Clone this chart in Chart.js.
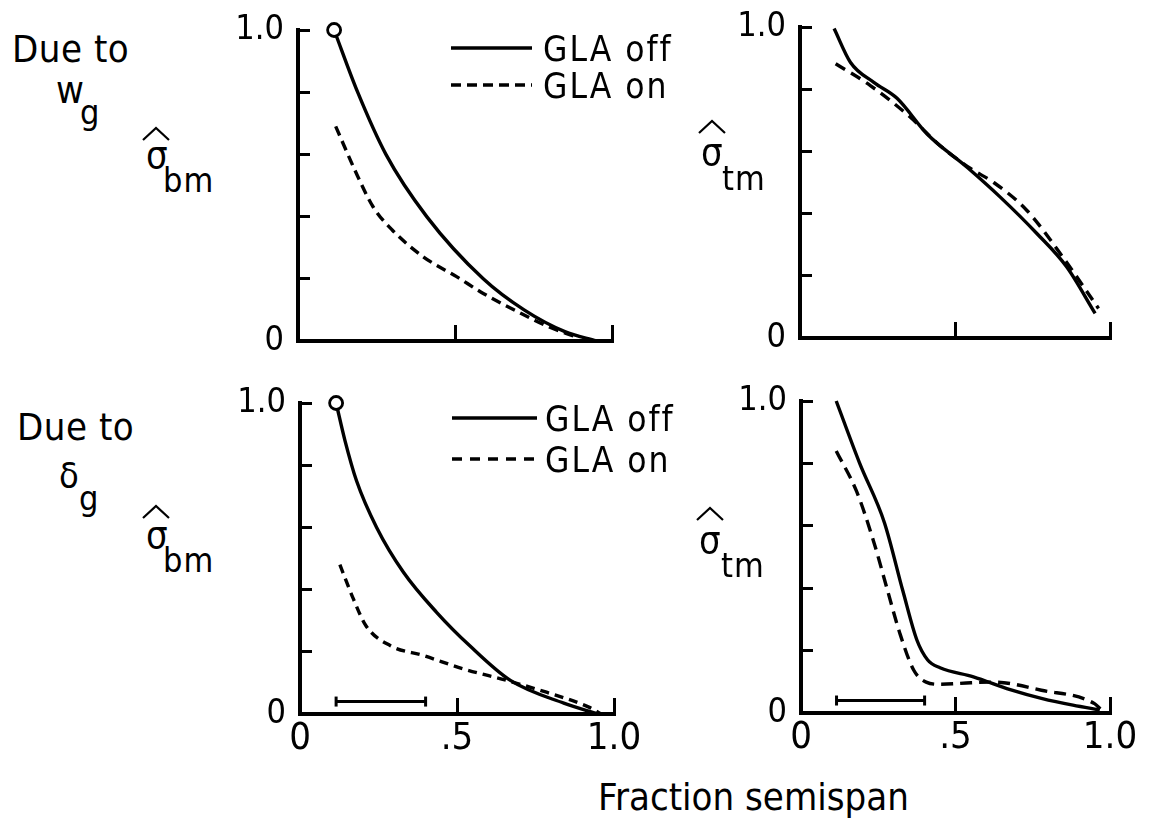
<!DOCTYPE html>
<html>
<head>
<meta charset="utf-8">
<script src="https://cdn.jsdelivr.net/npm/chart.js@4.4.1/dist/chart.umd.min.js"></script>
<style>
  html, body { margin: 0; padding: 0; background: #fff; overflow: hidden; }
  body { width: 1157px; height: 826px; position: relative; }
  .t { position: absolute; line-height: 1; white-space: nowrap; color: #000;
       font-family: 'DejaVu Sans Condensed', 'Liberation Sans Narrow', 'DejaVu Sans', sans-serif; }
  svg.hat { position: absolute; overflow: visible; }
</style>
</head>
<body>
<script>
// ---------------- DATA ----------------
// Top row: due to w_g ; bottom row: due to delta_g
// x = fraction semispan, y = normalized stress
const wgBmOffX = [0.115, 0.19, 0.28, 0.41, 0.59, 0.72, 0.85, 0.95];
const wgBmOffY = [1.00, 0.80, 0.60, 0.40, 0.20, 0.10, 0.03, 0.00];
const wgBmOnX  = [0.12, 0.19, 0.24, 0.30, 0.40, 0.505, 0.59, 0.70, 0.80, 0.88];
const wgBmOnY  = [0.69, 0.53, 0.43, 0.357, 0.27, 0.207, 0.153, 0.094, 0.045, 0.015];

const wgTmOffX = [0.11, 0.163, 0.238, 0.313, 0.41, 0.539, 0.646, 0.764, 0.86, 0.952];
const wgTmOffY = [0.995, 0.886, 0.822, 0.771, 0.656, 0.549, 0.453, 0.336, 0.229, 0.079];
const wgTmOnX  = [0.115, 0.228, 0.357, 0.45, 0.55, 0.625, 0.732, 0.84, 0.963];
const wgTmOnY  = [0.882, 0.811, 0.709, 0.62, 0.545, 0.50, 0.41, 0.271, 0.095];

const dgBmOffX = [0.115, 0.143, 0.18, 0.244, 0.33, 0.435, 0.54, 0.67, 0.84, 0.95];
const dgBmOffY = [1.00, 0.88, 0.75, 0.60, 0.455, 0.327, 0.22, 0.108, 0.035, 0.00];
const dgBmOnX  = [0.127, 0.17, 0.21, 0.287, 0.393, 0.52, 0.658, 0.785, 0.92, 0.96];
const dgBmOnY  = [0.48, 0.37, 0.284, 0.22, 0.188, 0.145, 0.108, 0.07, 0.022, 0.00];

const dgTmOffX = [0.114, 0.19, 0.27, 0.33, 0.375, 0.41, 0.45, 0.558, 0.677, 0.778, 0.88, 0.967];
const dgTmOffY = [1.00, 0.80, 0.61, 0.39, 0.234, 0.17, 0.145, 0.116, 0.075, 0.047, 0.025, 0.01];
const dgTmOnX  = [0.114, 0.18, 0.235, 0.278, 0.32, 0.365, 0.405, 0.45, 0.55, 0.625, 0.778, 0.95, 0.97];
const dgTmOnY  = [0.84, 0.71, 0.55, 0.40, 0.255, 0.137, 0.099, 0.092, 0.097, 0.099, 0.073, 0.03, 0.012];

// span range bar (bottom panels)
const spanBarX = [0.115, 0.40];
const spanBarY = [0.04, 0.04];

const seriesNames = ['GLA off', 'GLA on'];
const xTickVals = [0, 0.5, 1.0];
const xTickLabels = ['0', '.5', '1.0'];
const yTickVals = [0, 0.2, 0.4, 0.6, 0.8, 1.0];
const yTickLabels = ['0', '', '', '', '', '1.0'];

// ---------------- STYLE / LAYOUT ----------------
const FONT = "'DejaVu Sans Condensed', 'Liberation Sans Narrow', 'DejaVu Sans', sans-serif";
const pts = (xs, ys) => xs.map((x, i) => ({ x: x, y: ys[i] }));

const legendPlugin = {
  id: 'panelLegend',
  afterDatasetsDraw(chart, args, o) {
    if (!o || !o.show) return;
    const ctx = chart.ctx, a = chart.chartArea;
    const rows = [o.row0, o.row1];
    chart.data.datasets.forEach((ds, i) => {
      if (!ds.label || i > 1) return;
      const y = a.top + rows[i];
      ctx.save();
      ctx.strokeStyle = '#000';
      ctx.lineWidth = ds.borderWidth;
      ctx.setLineDash(ds.legendDash || ds.borderDash || []);
      ctx.beginPath();
      ctx.moveTo(a.left + o.x0, y);
      ctx.lineTo(a.left + o.x1, y);
      ctx.stroke();
      ctx.setLineDash([]);
      ctx.fillStyle = '#000';
      ctx.font = o.size + 'px ' + FONT;
      try { ctx.letterSpacing = o.spacing + 'px'; } catch (e) {}
      ctx.textBaseline = 'alphabetic';
      ctx.textAlign = 'left';
      ctx.fillText(ds.label, a.left + o.tx, y + o.size * 0.36);
      ctx.restore();
    });
  }
};

function panel(box, padR, offData, onData, dash, showX, legend, bar) {
  const cv = document.createElement('canvas');
  const W = box.R - box.L + 80 + padR, H = box.B - box.T + 90;
  cv.width = W; cv.height = H;
  cv.style.cssText = 'position:absolute;left:' + (box.L - 80) + 'px;top:' + (box.T - 30) +
    'px;width:' + W + 'px;height:' + H + 'px';
  document.body.appendChild(cv);

  const datasets = [
    { label: seriesNames[0], data: offData, borderColor: '#000', borderWidth: 3.4,
      pointRadius: offData.map((p, i) => (legend && i === 0) ? 6.5 : 0),
      pointBackgroundColor: '#fff', pointBorderColor: '#000', pointBorderWidth: 2.8,
      cubicInterpolationMode: 'monotone', fill: false, clip: false },
    { label: seriesNames[1], data: onData, borderColor: '#000', borderWidth: 3.4,
      borderDash: dash, legendDash: legend ? legend.dash : dash, pointRadius: 0,
      cubicInterpolationMode: 'monotone', fill: false, clip: false }
  ];
  if (bar) {
    datasets.push({ label: '', data: pts(spanBarX, spanBarY), borderColor: '#000', borderWidth: 3,
      pointStyle: 'line', rotation: 90, pointRadius: 5, pointBorderWidth: 3,
      pointBorderColor: '#000', tension: 0, fill: false, clip: false });
  }

  new Chart(cv, {
    type: 'line',
    data: { datasets: datasets },
    plugins: [legendPlugin],
    options: {
      responsive: false, animation: false, events: [],
      layout: { padding: { left: 0, top: 30, right: padR, bottom: 0 } },
      plugins: {
        legend: { display: false }, tooltip: { enabled: false },
        panelLegend: legend ? Object.assign({ show: true }, legend) : { show: false }
      },
      scales: {
        x: {
          type: 'linear', min: 0, max: 1,
          afterBuildTicks: s => { s.ticks = xTickVals.map(v => ({ value: v })); },
          afterFit: s => { s.height = 60; s.paddingLeft = 0; s.paddingRight = 0; },
          border: { display: true, color: '#000', width: 4 },
          grid: { drawOnChartArea: false, drawTicks: true, tickLength: -16, color: '#000', lineWidth: 3 },
          ticks: {
            autoSkip: false, maxRotation: 0, padding: 22, color: '#000',
            font: { family: FONT, size: 38, lineHeight: 1 },
            callback: (v, i) => showX ? xTickLabels[i] : ''
          }
        },
        y: {
          type: 'linear', min: 0, max: 1,
          afterBuildTicks: s => { s.ticks = yTickVals.map(v => ({ value: v })); },
          afterFit: s => { s.width = 80; s.paddingTop = 0; s.paddingBottom = 0; },
          border: { display: true, color: '#000', width: 4 },
          grid: { drawOnChartArea: false, drawTicks: true, tickLength: -12, color: '#000', lineWidth: 3 },
          ticks: {
            autoSkip: false, padding: 26, color: '#000',
            font: { family: FONT, size: 34, lineHeight: 1 },
            callback: (v, i) => yTickLabels[i]
          }
        }
      }
    }
  });
}

// panels
panel({ L: 298, R: 612, T: 30, B: 341 }, 72, pts(wgBmOffX, wgBmOffY), pts(wgBmOnX, wgBmOnY), [10, 6], false,
      { x0: 153, x1: 234, tx: 245, row0: 18, row1: 55, size: 35, spacing: 2, dash: [10, 6] }, false);
panel({ L: 800, R: 1110, T: 27, B: 338 }, 45, pts(wgTmOffX, wgTmOffY), pts(wgTmOnX, wgTmOnY), [11, 7], false, null, false);
panel({ L: 300, R: 614, T: 403, B: 714 }, 72, pts(dgBmOffX, dgBmOffY), pts(dgBmOnX, dgBmOnY), [9, 6], true,
      { x0: 152, x1: 237, tx: 245, row0: 15, row1: 56, size: 35, spacing: 2, dash: [10, 8] }, true);
panel({ L: 801, R: 1110, T: 401, B: 713 }, 45, pts(dgTmOffX, dgTmOffY), pts(dgTmOnX, dgTmOnY), [12, 7], true, null, true);

// ---------------- TEXT LABELS ----------------
function label(text, left, baseline, size, extra) {
  const d = document.createElement('div');
  d.className = 't';
  d.textContent = text;
  d.style.left = left + 'px';
  d.style.top = (baseline - 0.846 * size) + 'px';
  d.style.fontSize = size + 'px';
  if (extra) d.style.cssText += extra;
  document.body.appendChild(d);
}
function hat(cx, top) {
  const ns = 'http://www.w3.org/2000/svg';
  const s = document.createElementNS(ns, 'svg');
  s.setAttribute('class', 'hat');
  s.setAttribute('width', '28'); s.setAttribute('height', '14');
  s.style.left = (cx - 14) + 'px'; s.style.top = top + 'px';
  const p = document.createElementNS(ns, 'polyline');
  p.setAttribute('points', '1,13 14,1 27,13');
  p.setAttribute('fill', 'none'); p.setAttribute('stroke', '#000'); p.setAttribute('stroke-width', '2.2');
  s.appendChild(p);
  document.body.appendChild(s);
}

label('Due to', 12, 62, 38, 'letter-spacing:0.5px');
label('w', 56, 103, 38);
label('g', 80, 124, 34);
label('σ', 146, 168, 38); hat(156, 127); label('bm', 163, 192, 34, 'letter-spacing:1px');
label('σ', 701, 165, 38); hat(712, 120); label('tm', 722, 190, 34, 'letter-spacing:1px');

label('Due to', 17, 440, 38, 'letter-spacing:0.5px');
label('δ', 59, 488, 36);
label('g', 79, 510, 34);
label('σ', 146, 548, 38); hat(156, 505); label('bm', 163, 572, 34, 'letter-spacing:1px');
label('σ', 699, 553, 38); hat(710, 507); label('tm', 721, 577, 34, 'letter-spacing:1px');

label('Fraction semispan', 598, 810, 38, 'letter-spacing:0px');
</script>
</body>
</html>
